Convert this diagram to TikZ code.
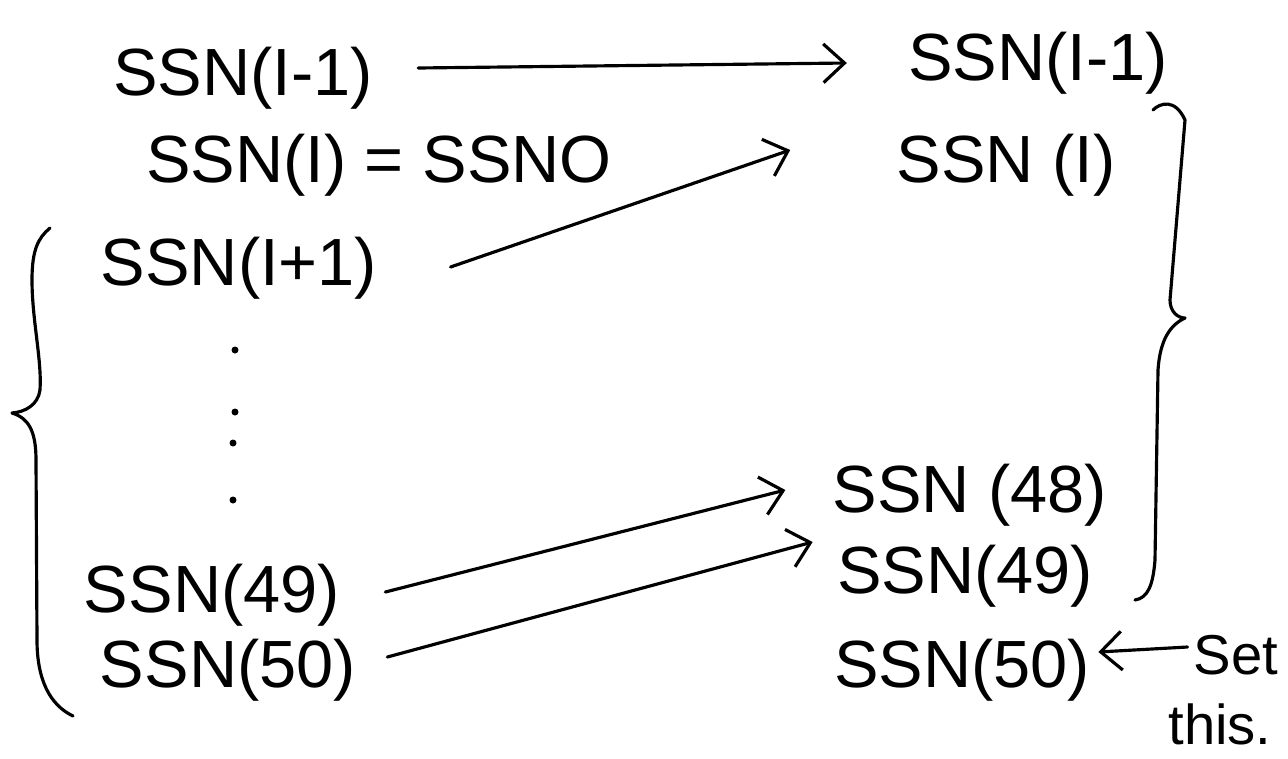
\documentclass[tikz,border=0pt]{standalone}
\usepackage{fontspec}
\setmainfont{Liberation Sans}
\usetikzlibrary{arrows.meta}

\begin{document}
\begin{tikzpicture}[x=0.02cm,y=-0.02cm,
  lbl/.style = {font=\fontsize{38}{42}\selectfont, inner sep=0pt, anchor=base},
  note/.style = {lbl, font=\fontsize{32}{36}\selectfont},
  dot/.style = {circle, fill, inner sep=0pt, minimum size=0.14cm},
  pen/.style = {line width=1.8pt, line cap=round, line join=round},
  arr/.style = {pen, -{Straight Barb[length=12pt,width=22pt,line width=1.8pt]}}]
        \useasboundingbox (0,0) rectangle (1288,758);
        % left column
        \node[lbl] (l1) at (243,95) {SSN(I-1)};
        \node[lbl] (l2) at (379,182) {SSN(I) = SSNO};
        \node[lbl] (l3) at (239,285) {SSN(I+1)};
        \node[dot] (d1) at (235,350) {};
        \node[dot] (d2) at (235,412) {};
        \node[dot] (d3) at (233,443) {};
        \node[dot] (d4) at (233,500) {};
        \node[lbl] (l49) at (212,612) {SSN(49)};
        \node[lbl] (l50) at (228,687) {SSN(50)};
        % right column
        \node[lbl] (r1) at (1038,80) {SSN(I-1)};
        \node[lbl] (r2) at (1006,182) {SSN (I)};
        \node[lbl] (r48) at (970,512) {SSN (48)};
        \node[lbl] (r49) at (965,593) {SSN(49)};
        \node[lbl] (r50) at (962,687) {SSN(50)};
        \node[note] (set) at (1236,674) {Set};
        \node[note] (this) at (1220,744) {this.};
        % arrows
        \draw[arr] ([shift={(45,-27)}]l1.base east) -- ([shift={(-61,-17)}]r1.base west);
        \draw[arr] ([shift={(73,-18)}]l3.base east) -- ([shift={(-106,-32)}]r2.base west);
        \draw[arr] ([shift={(45,-20)}]l49.base east) -- ([shift={(-47,-22)}]r48.base west);
        \draw[arr] ([shift={(31,-30)}]l50.base east) -- ([shift={(-24,-51)}]r49.base west);
        \draw[arr] ([shift={(-6,-27)}]set.base west) -- ([shift={(8,-35)}]r50.base east);
        % braces
        \draw[pen] (50,228) .. controls (38,238) and (32,250) .. (32,280)
          .. controls (32,320) and (42,360) .. (40,390)
          .. controls (38,405) and (25,412) .. (12,413)
          .. controls (28,418) and (36,430) .. (36,460)
          -- (37,640) .. controls (37,680) and (50,705) .. (73,716);
        \draw[pen] (1153,110) .. controls (1160,103) and (1175,98) .. (1185,120)
          -- (1170,300) .. controls (1170,312) and (1178,318) .. (1185,318)
          .. controls (1170,325) and (1160,340) .. (1158,370)
          -- (1155,560) .. controls (1153,585) and (1148,598) .. (1135,600);
\end{tikzpicture}
\end{document}
